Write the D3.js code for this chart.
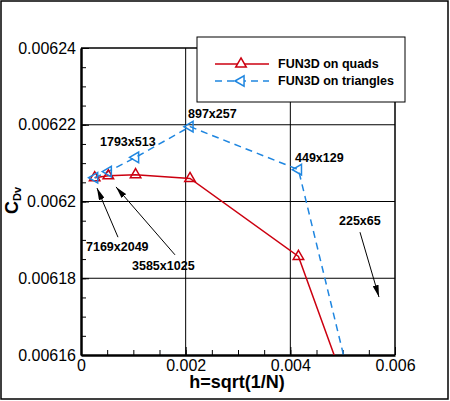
<!DOCTYPE html>
<html lang="en">
    <head>
        <meta charset="utf-8">
        <title>CDv grid convergence</title>
        <script src="https://d3js.org/d3.v7.min.js" charset="utf-8"></script>
        <style>
            body { margin: 0; background: #fff; }
            text { font-family: "Liberation Sans", Arial, sans-serif; }
        </style>
    </head>
    <body>
        <script type="text/javascript">

            // data
            var h = [0.000261, 0.000522, 0.001043, 0.002083, 0.004155, 0.008269];
            var quads = [0.0062062, 0.0062067, 0.0062070, 0.0062060, 0.0061857, 0.0060306];
            var triangles = [0.0062062, 0.0062078, 0.0062115, 0.0062195, 0.0062083, 0.0059775];
            var seriesNames = ["FUN3D on quads", "FUN3D on triangles"];

            var xTicks = [0, 0.002, 0.004, 0.006];
            var xTickLabels = ["0", "0.002", "0.004", "0.006"];
            var yTicks = [0.00616, 0.00618, 0.0062, 0.00622, 0.00624];
            var yTickLabels = ["0.00616", "0.00618", "0.0062", "0.00622", "0.00624"];

            // grid size labels (text anchored at left/baseline, in data units)
            var labelText = ["897x257", "1793x513", "449x129", "7169x2049", "3585x1025", "225x65"];
            var labelX = [0.002045, 0.000363, 0.004089, 0.0000955, 0.000975, 0.00493];
            var labelY = [0.0062218, 0.0062145, 0.0062103, 0.0061871, 0.0061822, 0.0061939];

            // arrows: tail -> tip, data units
            var arrowFrom = [[0.000707, 0.0061907], [0.001796, 0.0061861], [0.005331, 0.0061920]];
            var arrowTo = [[0.000306, 0.0062035], [0.000669, 0.0062038], [0.005694, 0.0061751]];

            //Width and height etc
            var w = 450;
            var ht = 401;
            var pL = 81, pR = 395, pT = 48, pB = 355;
            var red = "#cc0010";
            var blue = "#1f86e0";

            var svg = d3.select("body")
                .append("svg")
                .attr("width", w)
                .attr("height", ht);

            var x = d3.scaleLinear().domain([0, 0.006]).range([pL, pR]);
            var y = d3.scaleLinear().domain([0.00616, 0.00624]).range([pB, pT]);

            // outer frame
            svg.append("rect")
                .attr("x", 1).attr("y", 1)
                .attr("width", 447).attr("height", 398)
                .attr("fill", "none")
                .attr("stroke", "#000")
                .attr("stroke-width", 1.5);

            var defs = svg.append("defs");
            defs.append("clipPath")
                .attr("id", "plot")
                .append("rect")
                .attr("x", pL).attr("y", pT)
                .attr("width", pR - pL).attr("height", pB - pT);

            defs.append("marker")
                .attr("id", "head")
                .attr("viewBox", "0 0 12 6")
                .attr("refX", 12).attr("refY", 3)
                .attr("markerWidth", 12).attr("markerHeight", 6)
                .attr("markerUnits", "userSpaceOnUse")
                .attr("orient", "auto")
                .append("path")
                .attr("d", "M0,0L12,3L0,6Z")
                .attr("fill", "#000");

            // grid lines
            svg.append("g").selectAll("line")
                .data(xTicks.slice(1))
                .enter()
                .append("line")
                .attr("x1", function(d) { return x(d); })
                .attr("x2", function(d) { return x(d); })
                .attr("y1", pT).attr("y2", pB)
                .attr("stroke", "#000").attr("stroke-width", 1);

            svg.append("g").selectAll("line")
                .data(yTicks.slice(1))
                .enter()
                .append("line")
                .attr("x1", pL).attr("x2", pR)
                .attr("y1", function(d) { return y(d); })
                .attr("y2", function(d) { return y(d); })
                .attr("stroke", "#000").attr("stroke-width", 1);

            // minor ticks
            var xMinor = d3.range(0, 0.0060001, 0.0005);
            var yMinor = d3.range(0.00616, 0.0062400001, 0.000005);

            svg.append("g")
                .attr("transform", "translate(0," + pB + ")")
                .call(d3.axisBottom(x).tickValues(xMinor).tickSize(-5).tickFormat(""))
                .call(function(g) { g.select(".domain").remove(); });

            svg.append("g")
                .attr("transform", "translate(" + pL + ",0)")
                .call(d3.axisLeft(y).tickValues(yMinor).tickSize(-5).tickFormat(""))
                .call(function(g) { g.select(".domain").remove(); });

            // major axes
            var xAxis = svg.append("g")
                .attr("transform", "translate(0," + pB + ")")
                .call(d3.axisBottom(x)
                    .tickValues(xTicks)
                    .tickSizeInner(-8).tickSizeOuter(0).tickPadding(5)
                    .tickFormat(function(d, i) { return xTickLabels[i]; }));

            var yAxis = svg.append("g")
                .attr("transform", "translate(" + pL + ",0)")
                .call(d3.axisLeft(y)
                    .tickValues(yTicks)
                    .tickSizeInner(-8).tickSizeOuter(0).tickPadding(5)
                    .tickFormat(function(d, i) { return yTickLabels[i]; }));

            [xAxis, yAxis].forEach(function(g) {
                g.selectAll("text")
                    .attr("font-size", 16)
                    .attr("font-family", "Liberation Sans, Arial, sans-serif")
                    .attr("fill", "#000");
                g.select(".domain").attr("stroke-width", 2.5);
            });

            // top and right border
            svg.append("path")
                .attr("d", "M" + pL + "," + pT + "H" + pR + "V" + pB)
                .attr("fill", "none")
                .attr("stroke", "#000")
                .attr("stroke-width", 1);

            // series lines
            var quadPts = h.map(function(d, i) { return [d, quads[i]]; });
            var triPts = h.map(function(d, i) { return [d, triangles[i]]; });

            var line = d3.line()
                .x(function(d) { return x(d[0]); })
                .y(function(d) { return y(d[1]); });

            var plot = svg.append("g").attr("clip-path", "url(#plot)");

            plot.append("path")
                .datum(quadPts)
                .attr("fill", "none")
                .attr("stroke", red)
                .attr("stroke-width", 1.5)
                .attr("d", line);

            plot.append("path")
                .datum(triPts)
                .attr("fill", "none")
                .attr("stroke", blue)
                .attr("stroke-width", 1.5)
                .attr("stroke-dasharray", "7,5")
                .attr("d", line);

            var tri = d3.symbol().type(d3.symbolTriangle).size(48);

            plot.selectAll(".qm")
                .data(quadPts)
                .enter()
                .append("path")
                .attr("class", "qm")
                .attr("d", tri)
                .attr("transform", function(d) { return "translate(" + x(d[0]) + "," + y(d[1]) + ")"; })
                .attr("fill", "none")
                .attr("stroke", red)
                .attr("stroke-width", 1.5);

            plot.selectAll(".tm")
                .data(triPts)
                .enter()
                .append("path")
                .attr("class", "tm")
                .attr("d", tri)
                .attr("transform", function(d) { return "translate(" + x(d[0]) + "," + y(d[1]) + ") rotate(-90)"; })
                .attr("fill", "none")
                .attr("stroke", blue)
                .attr("stroke-width", 1.5);

            // grid labels
            svg.append("g").selectAll("text")
                .data(labelText)
                .enter()
                .append("text")
                .attr("x", function(d, i) { return x(labelX[i]); })
                .attr("y", function(d, i) { return y(labelY[i]); })
                .attr("font-size", 12.5)
                .attr("font-weight", "bold")
                .text(function(d) { return d; });

            // arrows
            svg.append("g").selectAll("line")
                .data(arrowFrom)
                .enter()
                .append("line")
                .attr("x1", function(d) { return x(d[0]); })
                .attr("y1", function(d) { return y(d[1]); })
                .attr("x2", function(d, i) { return x(arrowTo[i][0]); })
                .attr("y2", function(d, i) { return y(arrowTo[i][1]); })
                .attr("stroke", "#000")
                .attr("stroke-width", 1)
                .attr("marker-end", "url(#head)");

            // legend
            var lg = svg.append("g");
            lg.append("rect")
                .attr("x", 197).attr("y", 37)
                .attr("width", 208).attr("height", 65)
                .attr("fill", "#fff")
                .attr("stroke", "#000")
                .attr("stroke-width", 1);

            var legendStyle = [
                { color: red, dash: null, rot: 0 },
                { color: blue, dash: "7,5", rot: -90 }
            ];

            seriesNames.forEach(function(name, i) {
                var ly = 64 + i * 17;
                lg.append("line")
                    .attr("x1", 215).attr("x2", 269)
                    .attr("y1", ly).attr("y2", ly)
                    .attr("stroke", legendStyle[i].color)
                    .attr("stroke-width", 1.5)
                    .attr("stroke-dasharray", legendStyle[i].dash);
                lg.append("path")
                    .attr("d", tri)
                    .attr("transform", "translate(241," + ly + ") rotate(" + legendStyle[i].rot + ")")
                    .attr("fill", "#fff")
                    .attr("stroke", legendStyle[i].color)
                    .attr("stroke-width", 1.5);
                lg.append("text")
                    .attr("x", 278).attr("y", ly + 4)
                    .attr("font-size", 12.5)
                    .attr("font-weight", "bold")
                    .text(name);
            });

            // axis titles
            svg.append("text")
                .attr("x", (pL + pR) / 2 - 1)
                .attr("y", 388)
                .attr("text-anchor", "middle")
                .attr("font-size", 18)
                .attr("font-weight", "bold")
                .text("h=sqrt(1/N)");

            var yt = svg.append("text")
                .attr("transform", "translate(18,214) rotate(-90)")
                .attr("font-size", 18)
                .attr("font-weight", "bold");
            yt.append("tspan").text("C");
            yt.append("tspan")
                .attr("font-size", 11)
                .attr("dy", 3)
                .text("Dv");

        </script>
    </body>
</html>
